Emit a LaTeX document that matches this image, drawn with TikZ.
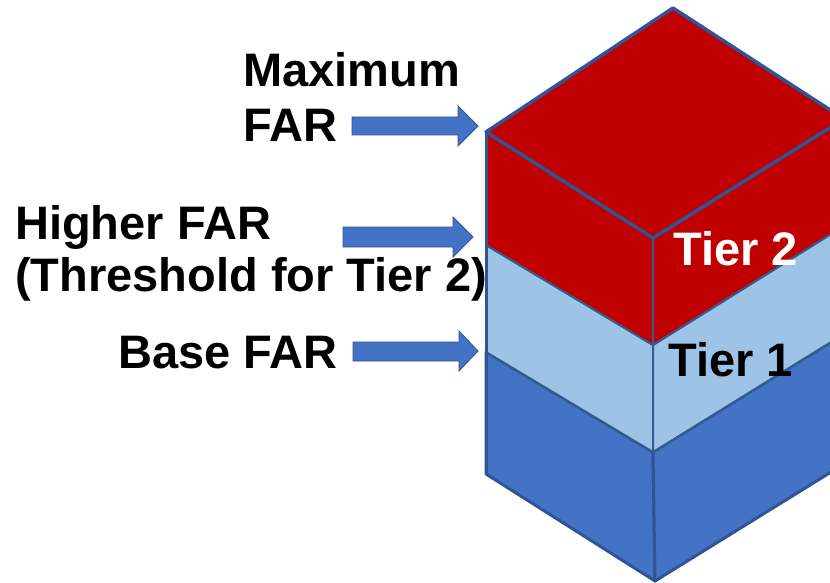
\documentclass[tikz,border=0pt]{standalone}
\usepackage{fontspec}
\setmainfont{Liberation Sans}
\definecolor{tierred}{HTML}{C00000}
\definecolor{tierlight}{HTML}{9DC3E6}
\definecolor{tierblue}{HTML}{4472C4}
\definecolor{edgeblue}{HTML}{2F5597}
\definecolor{edgeinner}{HTML}{335D8F}
\tikzset{
  face/.style={draw=edgeblue, line width=3pt, line join=round},
  innerface/.style={draw=edgeinner, line width=2pt, line join=round},
  blockarr/.style={fill=tierblue, draw=edgeblue, line width=0.8pt, line join=miter},
  lbl/.style={font=\fontsize{47}{52}\selectfont\bfseries, inner sep=0pt, anchor=base west}
}
\begin{document}
\begin{tikzpicture}[x=1pt,y=-1pt]
\useasboundingbox (0,0) rectangle (830,583);
\begin{scope}
\clip (0,0) rectangle (830,583);
% points
\coordinate (L0) at (486,132);
\coordinate (L1) at (486,245);
\coordinate (L2) at (486,352);
\coordinate (L3) at (486,474);
\coordinate (C0) at (653,238);
\coordinate (C1) at (653,345);
\coordinate (C2) at (653,452);
\coordinate (C3) at (655,581);
\coordinate (R0) at (844,119);
\coordinate (R1) at (844,226);
\coordinate (R2) at (844,334);
\coordinate (R3) at (844,464);
\coordinate (T) at (673,8);
% base
\filldraw[face, fill=tierblue] (L2) -- (C2) -- (C3) -- (L3) -- cycle;
\filldraw[face, fill=tierblue] (C2) -- (R2) -- (R3) -- (C3) -- cycle;
% tier 1
\filldraw[innerface, fill=tierlight] (L1) -- (C1) -- (C2) -- (L2) -- cycle;
\filldraw[innerface, fill=tierlight] (C1) -- (R1) -- (R2) -- (C2) -- cycle;
% tier 2
\filldraw[innerface, fill=tierred] (L0) -- (C0) -- (C1) -- (L1) -- cycle;
\filldraw[innerface, fill=tierred] (C0) -- (R0) -- (R1) -- (C1) -- cycle;
\filldraw[face, fill=tierred, line width=3.5pt] (L0) -- (T) -- (R0) -- (C0) -- cycle;
\draw[face] (L0) -- (L3);
\end{scope}
% labels
\node[lbl] (max1) at (243,87) {Maximum};
\node[lbl] (max2) at (243,142) {FAR};
\node[lbl] (hi1) at (15,239) {Higher FAR};
\node[lbl] (hi2) at (15,291) {(Threshold for Tier 2)};
\node[lbl] (base) at (118,368) {Base FAR};
\node[lbl, text=white] (t2) at (673,265) {Tier 2};
\node[lbl] (t1) at (668,376) {Tier 1};
% arrows
\draw[blockarr] (352,117) -- (458,117) -- (458,106) -- (478,126) -- (458,146) -- (458,135) -- (352,135) -- cycle;
\draw[blockarr] (343,227) -- (453,227) -- (453,217) -- (473,237) -- (453,257) -- (453,247) -- (343,247) -- cycle;
\draw[blockarr] (353,342) -- (459,342) -- (459,331) -- (478,351) -- (459,371) -- (459,361) -- (353,361) -- cycle;
\end{tikzpicture}
\end{document}
